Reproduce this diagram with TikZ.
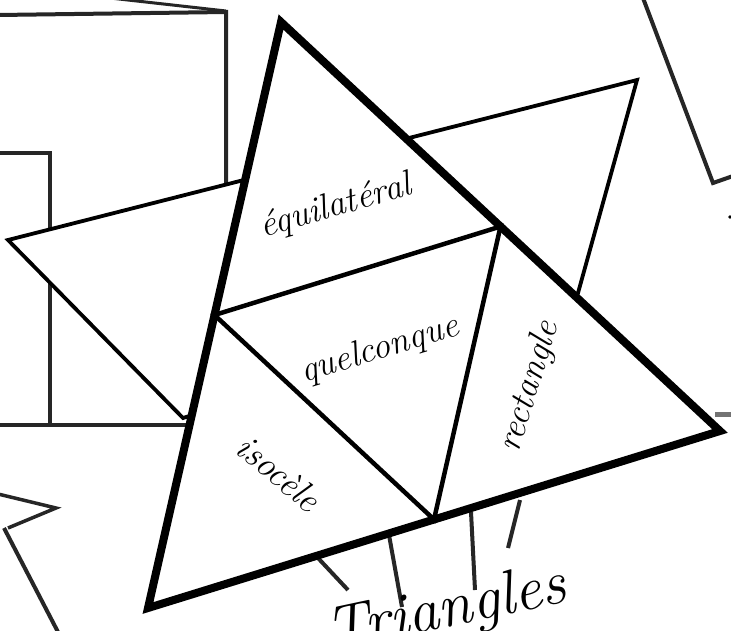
\documentclass[tikz,border=0pt]{standalone}
\usepackage{fontspec}
\usetikzlibrary{calc}
\newcommand\cursivefont{\itshape}
\tikzset{
  bgline/.style={draw=black!85, line width=4pt},
  bgtri/.style={draw=black, line width=3.8pt, fill=white, line join=miter},
  maintri/.style={draw=black, line width=8pt, fill=white, line join=miter},
  innerline/.style={draw=black, line width=4.5pt},
  lab/.style={font=\cursivefont\fontsize{36}{42}\selectfont, inner sep=0pt},
  title/.style={font=\cursivefont\fontsize{62}{68}\selectfont, inner sep=0pt}
}
\begin{document}
\begin{tikzpicture}[x=1pt,y=-1pt]
\useasboundingbox (0,0) rectangle (731,630);
\clip (0,0) rectangle (731,630);
\fill[white] (0,0) rectangle (731,630);
% background cards
\draw[bgline, line width=3pt] (110,-2) -- (226,11);
\draw[bgline] (-2,15) -- (226,12) -- (226,200);
\draw[bgline] (-2,153) -- (50,153) -- (50,425);
\draw[bgline] (-2,425) -- (190,425);
\draw[bgline] (643,-2) -- (713,183) -- (733,176);
\draw[black!55, line width=5pt] (715,414) -- (733,414);
\draw[bgline, line width=3.5pt] (-2,494) -- (56,508) -- (8,528);
\draw[bgline] (4,528) -- (58,632);
\fill (730,217) circle (1.8pt);
% bottom short lines
\draw[bgline] (318,558) -- (348,590);
\draw[bgline] (389,535) -- (402,607);
\draw[bgline] (471,512) -- (475,590);
\draw[bgline] (520,500) -- (508,548);
% background triangle
\coordinate (b1) at (8,240);
\coordinate (b2) at (637,80);
\coordinate (b3) at (578,293);
\coordinate (b4) at (183,418);
\path[bgtri] (b1) -- (b2) -- (b3) -- (b4) -- cycle;
% main triangle
\coordinate (T) at (281,22);
\coordinate (L) at (148,608);
\coordinate (R) at (720,431);
\path[maintri] (T) -- (L) -- (R) -- cycle;
\coordinate (mL) at ($(T)!0.5!(L)$);
\coordinate (mR) at ($(T)!0.5!(R)$);
\coordinate (mB) at ($(L)!0.5!(R)$);
\draw[innerline] (mL) -- (mR) -- (mB) -- cycle;
% labels
\node[lab, rotate=16] (equi) at (336,207) {équilatéral};
\node[lab, rotate=17] (quel) at (380,350) {quelconque};
\node[lab, rotate=73] (rect) at (530,387) {rectangle};
\node[lab, rotate=-40] (iso) at (279,473) {isocèle};
\node[title, rotate=12, anchor=base west] (tri) at (330,652) {Triangles};
\end{tikzpicture}
\end{document}
